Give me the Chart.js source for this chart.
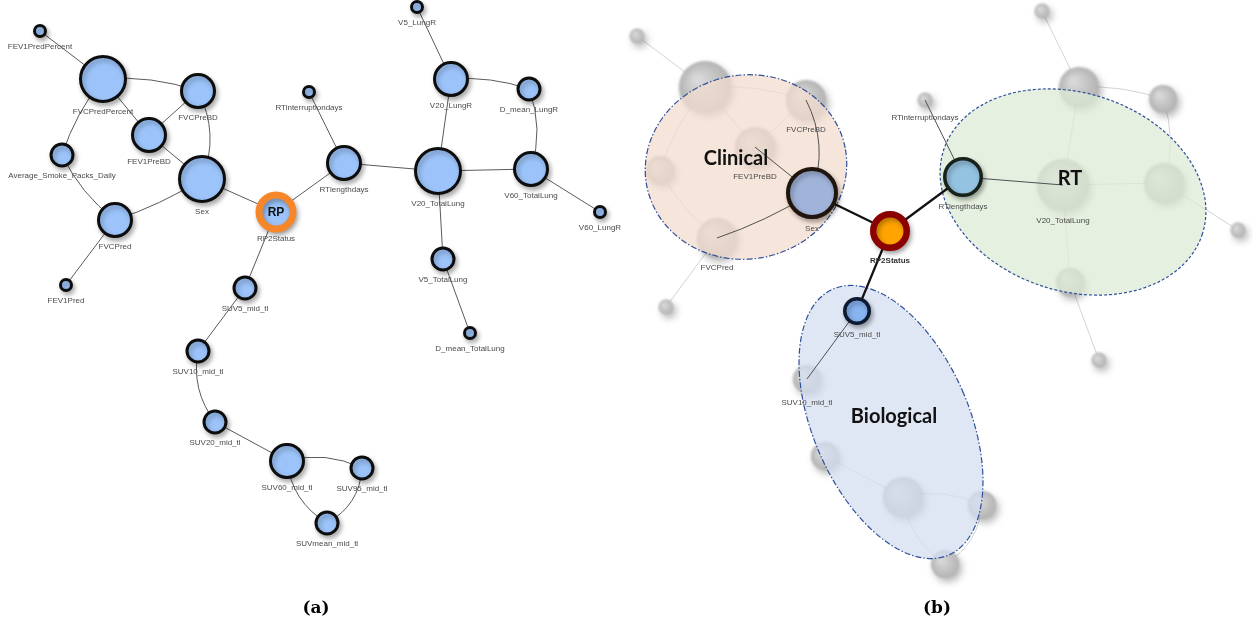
<!DOCTYPE html>
<html>
<head>
<meta charset="utf-8">
<script src="https://cdn.jsdelivr.net/npm/chart.js@4.4.0/dist/chart.umd.min.js"></script>
<style>
  html, body { margin: 0; background: #fff; }
  #wrap { width: 1253px; height: 630px; }
</style>
</head>
<body>
<div id="wrap"><canvas id="net"></canvas></div>
<script>
// variables of the network
const nodeNames = ['FEV1PredPercent', 'FVCPredPercent', 'FVCPreBD', 'FEV1PreBD', 'Average_Smoke_Packs_Daily',
  'Sex', 'FVCPred', 'FEV1Pred', 'RP2Status', 'SUV5_mid_tl', 'SUV10_mid_tl', 'SUV20_mid_tl', 'SUV60_mid_tl',
  'SUV95_mid_tl', 'SUVmean_mid_tl', 'RTinterruptiondays', 'RTlengthdays', 'V5_LungR', 'V20_LungR',
  'D_mean_LungR', 'V20_TotalLung', 'V60_TotalLung', 'V60_LungR', 'V5_TotalLung', 'D_mean_TotalLung'];
// node size class (1 = smallest, 4 = largest)
const nodeLevel = [1, 4, 3, 3, 2, 4, 3, 1, 3, 2, 2, 2, 3, 2, 2, 1, 3, 1, 3, 2, 4, 3, 1, 2, 1];

// layout (a)
const aX = [40, 103, 198, 149, 62, 202, 115, 66, 276, 245, 198, 215, 287, 362, 327, 309, 344, 417, 451, 529, 438, 531, 600, 443, 470];
const aY = [31, 79, 91, 135, 155, 179, 220, 285, 212, 288, 351, 422, 461, 468, 523, 92, 163, 7, 79, 89, 171, 169, 212, 259, 333];

// layout (b)
const bX = [637, 705, 806, 755, 660, 812, 717, 666, 890, 857, 807, 825, 903, 982, 945, 925, 963, 1042, 1079, 1163, 1063, 1164, 1238, 1070, 1099];
const bY = [36, 87, 100, 147, 170, 193, 238, 307, 231, 311, 379, 456, 497, 505, 564, 100, 177, 11, 87, 99, 185, 183, 230, 282, 360];

const edges = [
  ['FEV1PredPercent', 'FVCPredPercent'], ['FVCPredPercent', 'FVCPreBD'], ['FVCPredPercent', 'FEV1PreBD'],
  ['FVCPredPercent', 'Average_Smoke_Packs_Daily'], ['FVCPreBD', 'FEV1PreBD'], ['FVCPreBD', 'Sex'],
  ['FEV1PreBD', 'Sex'], ['Average_Smoke_Packs_Daily', 'FVCPred'], ['Sex', 'FVCPred'], ['FVCPred', 'FEV1Pred'],
  ['Sex', 'RP2Status'], ['RP2Status', 'RTlengthdays'], ['RP2Status', 'SUV5_mid_tl'],
  ['SUV5_mid_tl', 'SUV10_mid_tl'], ['SUV10_mid_tl', 'SUV20_mid_tl'], ['SUV20_mid_tl', 'SUV60_mid_tl'],
  ['SUV60_mid_tl', 'SUV95_mid_tl'], ['SUV60_mid_tl', 'SUVmean_mid_tl'], ['SUV95_mid_tl', 'SUVmean_mid_tl'],
  ['RTinterruptiondays', 'RTlengthdays'], ['RTlengthdays', 'V20_TotalLung'], ['V5_LungR', 'V20_LungR'],
  ['V20_LungR', 'D_mean_LungR'], ['V20_LungR', 'V20_TotalLung'], ['D_mean_LungR', 'V60_TotalLung'],
  ['V20_TotalLung', 'V60_TotalLung'], ['V60_TotalLung', 'V60_LungR'], ['V20_TotalLung', 'V5_TotalLung'],
  ['V5_TotalLung', 'D_mean_TotalLung']
];

// (b): Markov blanket of the target, and labels shown
const focusB = ['Sex', 'RP2Status', 'RTlengthdays', 'SUV5_mid_tl'];
const labelsB = ['FVCPreBD', 'FEV1PreBD', 'Sex', 'FVCPred', 'RP2Status', 'RTinterruptiondays', 'RTlengthdays',
  'V20_TotalLung', 'SUV5_mid_tl', 'SUV10_mid_tl'];

// groups of (b)
const groupNames = ['Clinical', 'RT', 'Biological'];
const groupX = [746, 1073, 891];
const groupY = [167, 192, 422];
const groupRx = [101, 136, 78];
const groupRy = [92, 99, 145];
const groupAngle = [-10, 18, -23.5];
const groupLabelX = [736, 1070, 894];
const groupLabelY = [159, 179, 417];

const panelNames = ['(a)', '(b)'];
const panelX = [316, 937];
const panelY = [609, 609];

// ---- style ----
const radA = [0, 5.5, 11, 16.5, 22.5];
const radB = [0, 7.5, 14, 20, 26];
const groupFill = ['rgba(243,220,206,0.75)', 'rgba(222,235,214,0.75)', 'rgba(212,223,240,0.75)'];
const groupDash = [[6, 2, 1.5, 2], [3, 2], [6, 2, 1.5, 2]];
const focusStyle = {
  'Sex': { fill: '#a0b4da', border: '#20150d', bw: 4 },
  'RP2Status': { fill: '#ffa400', border: '#8b0000', bw: 6.5 },
  'RTlengthdays': { fill: '#94c2e1', border: '#17231a', bw: 3.5 },
  'SUV5_mid_tl': { fill: '#88b4f1', border: '#0d1a33', bw: 3.5 }
};
const bend = {
  'FVCPredPercent|FVCPreBD': -5, 'FVCPredPercent|Average_Smoke_Packs_Daily': 4,
  'Average_Smoke_Packs_Daily|FVCPred': 5, 'FVCPreBD|Sex': -10, 'Sex|FVCPred': -3,
  'SUV10_mid_tl|SUV20_mid_tl': 8, 'SUV60_mid_tl|SUV95_mid_tl': -7, 'SUV60_mid_tl|SUVmean_mid_tl': 9,
  'SUV95_mid_tl|SUVmean_mid_tl': -9, 'V20_LungR|D_mean_LungR': -4, 'D_mean_LungR|V60_TotalLung': -7
};

const idx = n => nodeNames.indexOf(n);
const rpA = n => n === 'RP2Status' ? 17 : radA[nodeLevel[idx(n)]];

const dataA = nodeNames.map((n, i) => ({ x: aX[i], y: aY[i], r: rpA(n), name: n }));
const ghostB = nodeNames.map((n, i) => ({ x: bX[i], y: bY[i], r: radB[nodeLevel[i]], name: n }))
  .filter(d => !focusB.includes(d.name));
const focusData = focusB.map(n => {
  const i = idx(n);
  return { x: bX[i], y: bY[i], r: radB[nodeLevel[i]] - focusStyle[n].bw / 2, name: n };
});

function edgePath(ctx, chart, xs, ys, e) {
  const sx = chart.scales.x, sy = chart.scales.y;
  const i = idx(e[0]), j = idx(e[1]);
  const x1 = sx.getPixelForValue(xs[i]), y1 = sy.getPixelForValue(ys[i]);
  const x2 = sx.getPixelForValue(xs[j]), y2 = sy.getPixelForValue(ys[j]);
  const b = bend[e[0] + '|' + e[1]] || 0;
  const dx = x2 - x1, dy = y2 - y1, len = Math.hypot(dx, dy);
  const cx = (x1 + x2) / 2 - dy / len * b * 2, cy = (y1 + y2) / 2 + dx / len * b * 2;
  ctx.beginPath();
  ctx.moveTo(x1, y1);
  ctx.quadraticCurveTo(cx, cy, x2, y2);
  ctx.stroke();
}

function edgeKind(e) {
  return focusB.includes(e[0]) + focusB.includes(e[1]);
}

const netPlugin = {
  id: 'net',
  beforeDatasetsDraw(chart) {
    const ctx = chart.ctx;
    ctx.save();
    ctx.strokeStyle = '#5a5a5a';
    ctx.lineWidth = 1;
    edges.forEach(e => edgePath(ctx, chart, aX, aY, e));
    ctx.strokeStyle = 'rgba(170,170,170,0.5)';
    edges.filter(e => edgeKind(e) === 0).forEach(e => edgePath(ctx, chart, bX, bY, e));
    ctx.restore();
  },
  beforeDatasetDraw(chart, args) {
    const ctx = chart.ctx;
    ctx.save();
    if (args.index === 1) {
      ctx.filter = 'blur(1.2px)';
      ctx.shadowColor = 'rgba(0,0,0,0.28)';
      ctx.shadowBlur = 7;
      ctx.shadowOffsetX = 3;
      ctx.shadowOffsetY = 4;
    } else {
      ctx.shadowColor = 'rgba(0,0,0,0.3)';
      ctx.shadowBlur = 5;
      ctx.shadowOffsetX = 2;
      ctx.shadowOffsetY = 3;
    }
  },
  afterDatasetDraw(chart, args) {
    const ctx = chart.ctx;
    ctx.restore();
    if (args.index !== 1) return;
    const sx = chart.scales.x, sy = chart.scales.y;
    // groups
    groupNames.forEach((g, k) => {
      const cx = sx.getPixelForValue(groupX[k]), cy = sy.getPixelForValue(groupY[k]);
      const rx = Math.abs(sx.getPixelForValue(groupX[k] + groupRx[k]) - cx);
      const ry = Math.abs(sy.getPixelForValue(groupY[k] + groupRy[k]) - cy);
      ctx.save();
      ctx.beginPath();
      ctx.ellipse(cx, cy, rx, ry, groupAngle[k] * Math.PI / 180, 0, Math.PI * 2);
      ctx.fillStyle = groupFill[k];
      ctx.fill();
      ctx.setLineDash(groupDash[k]);
      ctx.strokeStyle = '#2f4f9a';
      ctx.lineWidth = 1.2;
      ctx.stroke();
      ctx.restore();
    });
    // edges to the focus nodes
    ctx.save();
    edges.filter(e => edgeKind(e) === 1).forEach(e => {
      ctx.strokeStyle = '#505050';
      ctx.lineWidth = 1;
      edgePath(ctx, chart, bX, bY, e);
    });
    edges.filter(e => edgeKind(e) === 2).forEach(e => {
      ctx.strokeStyle = '#111';
      ctx.lineWidth = 2.2;
      edgePath(ctx, chart, bX, bY, e);
    });
    ctx.restore();
  },
  afterDatasetsDraw(chart) {
    const ctx = chart.ctx;
    const sx = chart.scales.x, sy = chart.scales.y;
    ctx.save();
    ctx.textAlign = 'center';
    ctx.textBaseline = 'middle';
    ctx.font = '8px "Liberation Sans", Arial, sans-serif';
    ctx.fillStyle = '#4a4a4a';
    dataA.forEach(d => {
      ctx.fillText(d.name, sx.getPixelForValue(d.x), sy.getPixelForValue(d.y) + d.r + 10);
    });
    const rp = dataA[idx('RP2Status')];
    ctx.font = 'bold 12px "Liberation Sans", Arial, sans-serif';
    ctx.fillStyle = '#111';
    ctx.fillText('RP', sx.getPixelForValue(rp.x), sy.getPixelForValue(rp.y) + 1);

    labelsB.forEach(n => {
      const i = idx(n);
      const r = radB[nodeLevel[i]];
      ctx.font = (n === 'RP2Status' ? 'bold ' : '') + '8px "Liberation Sans", Arial, sans-serif';
      ctx.fillStyle = n === 'RP2Status' ? '#333' : '#4a4a4a';
      ctx.fillText(n, sx.getPixelForValue(bX[i]), sy.getPixelForValue(bY[i]) + r + 10);
    });

    ctx.font = 'bold 20px Lato, "Open Sans", sans-serif';
    ctx.fillStyle = '#111';
    groupNames.forEach((g, k) => {
      ctx.fillText(g, sx.getPixelForValue(groupLabelX[k]), sy.getPixelForValue(groupLabelY[k]));
    });

    ctx.font = 'bold 17px "DejaVu Serif", serif';
    ctx.fillStyle = '#000';
    panelNames.forEach((p, k) => {
      ctx.fillText(p, sx.getPixelForValue(panelX[k]), sy.getPixelForValue(panelY[k]));
    });
    ctx.restore();
  }
};

new Chart(document.getElementById('net'), {
  type: 'bubble',
  data: {
    datasets: [
      {
        label: 'network (a)',
        data: dataA,
        order: 1,
        clip: false,
        backgroundColor: '#9cc4fa',
        borderColor: c => c.raw && c.raw.name === 'RP2Status' ? '#f5872a' : '#0d0d0d',
        borderWidth: c => c.raw && c.raw.name === 'RP2Status' ? 7 : 3
      },
      {
        label: 'network (b) other',
        data: ghostB,
        order: 3,
        clip: false,
        borderWidth: 0,
        backgroundColor: c => {
          if (!c.raw) return '#c0c0c0';
          const ch = c.chart;
          const x = ch.scales.x.getPixelForValue(c.raw.x), y = ch.scales.y.getPixelForValue(c.raw.y);
          const r = c.raw.r;
          if (!Number.isFinite(x) || !Number.isFinite(y)) return '#c4c4c4';
          const g = ch.ctx.createRadialGradient(x - r * 0.3, y - r * 0.3, r * 0.1, x, y, r);
          g.addColorStop(0, '#d9d9d9');
          g.addColorStop(1, '#b3b3b3');
          return g;
        }
      },
      {
        label: 'network (b) blanket',
        data: focusData,
        order: 2,
        clip: false,
        backgroundColor: c => c.raw ? focusStyle[c.raw.name].fill : '#999',
        borderColor: c => c.raw ? focusStyle[c.raw.name].border : '#000',
        borderWidth: c => c.raw ? focusStyle[c.raw.name].bw : 3
      }
    ]
  },
  options: {
    responsive: true,
    maintainAspectRatio: false,
    animation: false,
    events: [],
    layout: { padding: 0, autoPadding: false },
    plugins: { legend: { display: false }, tooltip: { enabled: false } },
    scales: {
      x: { type: 'linear', min: 0, max: 1253, display: false },
      y: { type: 'linear', min: 0, max: 630, reverse: true, display: false }
    }
  },
  plugins: [netPlugin]
});
</script>
</body>
</html>
